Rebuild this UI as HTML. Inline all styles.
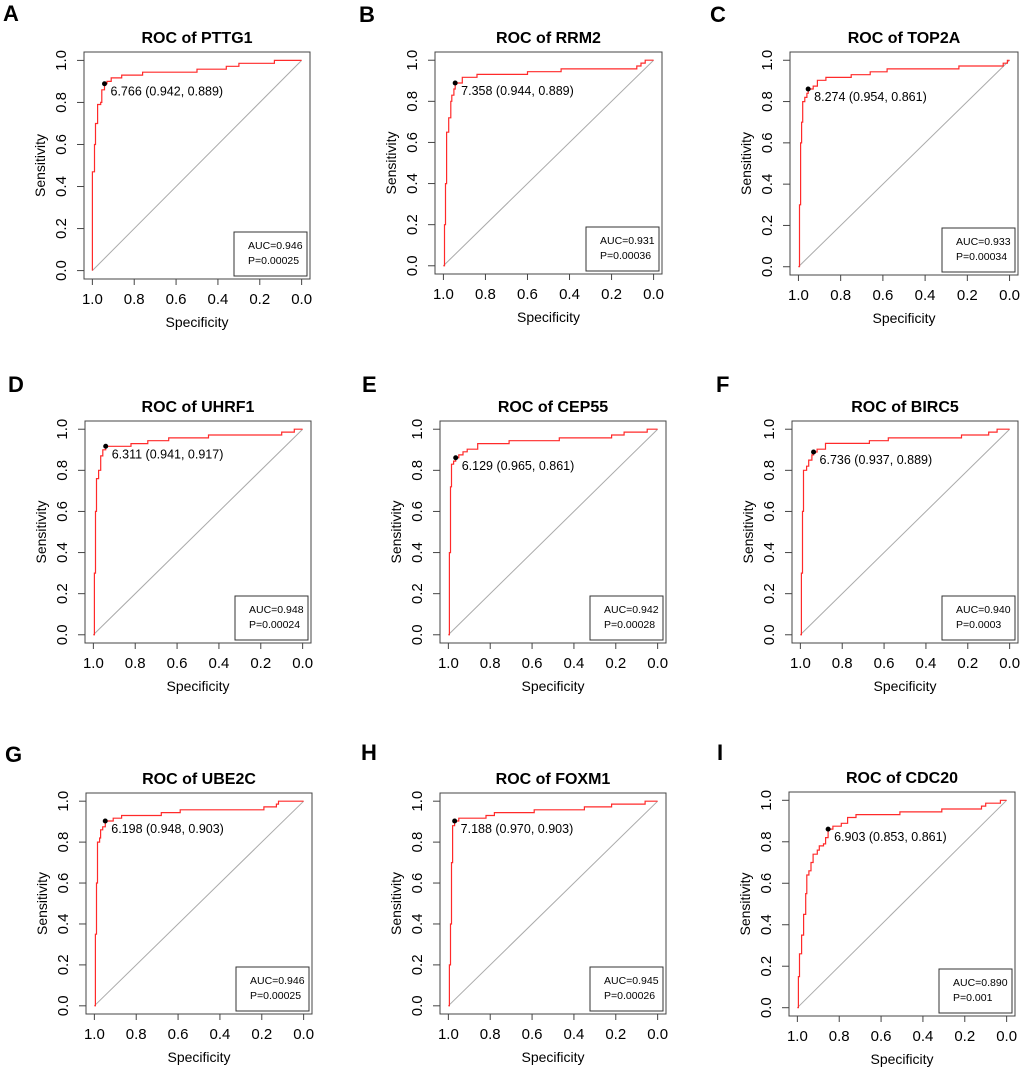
<!DOCTYPE html>
<html><head><meta charset="utf-8"><style>
html,body{margin:0;padding:0;background:#fff;}
svg{display:block;font-family:"Liberation Sans",Arial,sans-serif;}
</style></head><body>
<svg id="fig" width="1020" height="1075" viewBox="0 0 1020 1075" xmlns="http://www.w3.org/2000/svg"></svg>
<script>
const panelLetters = ["A","B","C","D","E","F","G","H","I"];
const geneNames = ["PTTG1","RRM2","TOP2A","UHRF1","CEP55","BIRC5","UBE2C","FOXM1","CDC20"];
const aucLabels = ["AUC=0.946","AUC=0.931","AUC=0.933","AUC=0.948","AUC=0.942","AUC=0.940","AUC=0.946","AUC=0.945","AUC=0.890"];
const pLabels = ["P=0.00025","P=0.00036","P=0.00034","P=0.00024","P=0.00028","P=0.0003","P=0.00025","P=0.00026","P=0.001"];
const cutThreshold = ["6.766","7.358","8.274","6.311","6.129","6.736","6.198","7.188","6.903"];
const cutSpec = [0.942,0.944,0.954,0.941,0.965,0.937,0.948,0.970,0.853];
const cutSens = [0.889,0.889,0.861,0.917,0.861,0.889,0.903,0.903,0.861];
const tickLabels = ["1.0","0.8","0.6","0.4","0.2","0.0"];
const tickValues = [1.0,0.8,0.6,0.4,0.2,0.0];
const ytickLabels = ["0.0","0.2","0.4","0.6","0.8","1.0"];
const ytickValues = [0,0.2,0.4,0.6,0.8,1.0];
const specA=[1,1,0.99,0.985,0.975,0.96,0.955,0.942,0.93,0.91,0.86,0.76,0.5,0.36,0.3,0.13,0];
const sensA=[0,0.47,0.6,0.7,0.79,0.8,0.86,0.889,0.9,0.917,0.93,0.944,0.958,0.972,0.986,1,1];
const specB=[1,0.995,0.99,0.985,0.975,0.965,0.96,0.95,0.944,0.91,0.84,0.6,0.44,0.08,0.06,0.04,0];
const sensB=[0,0.2,0.4,0.65,0.72,0.8,0.83,0.86,0.889,0.917,0.931,0.944,0.958,0.972,0.986,1,1];
const specC=[1,0.995,0.99,0.985,0.98,0.97,0.96,0.954,0.93,0.91,0.87,0.75,0.66,0.58,0.24,0.03,0.01,0];
const sensC=[0,0.3,0.6,0.7,0.8,0.82,0.84,0.861,0.875,0.903,0.917,0.93,0.944,0.958,0.972,0.986,1,1];
const specD=[1,0.995,0.99,0.985,0.975,0.965,0.955,0.941,0.82,0.74,0.64,0.45,0.1,0.04,0];
const sensD=[0,0.3,0.6,0.76,0.8,0.87,0.9,0.917,0.93,0.944,0.958,0.972,0.986,1,1];
const specE=[1,0.995,0.99,0.985,0.975,0.965,0.95,0.93,0.91,0.86,0.71,0.47,0.22,0.16,0.05,0];
const sensE=[0,0.4,0.72,0.83,0.845,0.861,0.875,0.89,0.903,0.93,0.944,0.958,0.972,0.986,1,1];
const specF=[1,0.995,0.99,0.985,0.97,0.96,0.945,0.937,0.92,0.88,0.67,0.58,0.23,0.1,0.06,0];
const sensF=[0,0.3,0.6,0.8,0.82,0.85,0.875,0.889,0.903,0.931,0.944,0.958,0.972,0.986,1,1];
const specG=[1,0.995,0.99,0.985,0.975,0.97,0.96,0.948,0.91,0.87,0.68,0.59,0.19,0.13,0.12,0];
const sensG=[0,0.35,0.6,0.8,0.82,0.86,0.875,0.903,0.917,0.93,0.944,0.958,0.972,0.986,1,1];
const specH=[1,0.995,0.99,0.985,0.98,0.97,0.95,0.82,0.78,0.59,0.35,0.22,0.06,0];
const sensH=[0,0.2,0.4,0.7,0.88,0.903,0.917,0.93,0.944,0.958,0.972,0.986,1,1];
const specI=[1,0.995,0.99,0.98,0.97,0.96,0.955,0.945,0.935,0.925,0.905,0.895,0.875,0.865,0.853,0.83,0.79,0.76,0.72,0.51,0.31,0.12,0.1,0.03,0];
const sensI=[0,0.15,0.26,0.35,0.45,0.55,0.64,0.66,0.7,0.74,0.76,0.78,0.79,0.82,0.861,0.875,0.889,0.917,0.931,0.944,0.958,0.972,0.986,1,1];
const allSpec=[specA,specB,specC,specD,specE,specF,specG,specH,specI];
const allSens=[sensA,sensB,sensC,sensD,sensE,sensF,sensG,sensH,sensI];

const boxes=[[84,52,226,227,3,21],[435,52,227,222,359,22],[790,52,228,223,710,22],
[85,421,226,222,8,392],[440,421,226,222,362,392],[792,421,226,222,716,392],
[86,793,226,221,5,762],[440,793,226,221,361,760],[789,792,226,224,717,760]];

const NS="http://www.w3.org/2000/svg";
const fig=document.getElementById('fig');
function mk(tag,attrs,parent,txt){const e=document.createElementNS(NS,tag);for(const k in attrs)e.setAttribute(k,attrs[k]);if(txt!==undefined)e.textContent=txt;parent.appendChild(e);return e;}

for(let i=0;i<9;i++){
  const [L,T,W,H,lx,ly]=boxes[i];
  const g=mk('g',{},fig);
  
  
  const padX=W*0.04/1.08, padY=H*0.04/1.08;
  const x0=L+padX, x1=L+W-padX;
  const yTop=T+padY, yBot=T+H-padY;
  const xs=v=>x0+(1-v)*(x1-x0);
  const ys=v=>yBot-v*(yBot-yTop);

  const let_=mk('text',{x:lx,y:ly,'font-size':22,'font-weight':'bold',fill:'#000'},g,panelLetters[i]);
  
  
  const tt=mk('text',{x:L+W/2,y:T-9,'font-size':16,'font-weight':'bold','text-anchor':'middle',fill:'#000'},g,'ROC of '+geneNames[i]);
  
  

  const dg=mk('line',{x1:xs(1),y1:ys(0),x2:xs(0),y2:ys(1),stroke:'#aaa','stroke-width':1},g);
  
  

  const sp=allSpec[i], se=allSens[i];
  let d='M'+xs(sp[0]).toFixed(1)+','+ys(se[0]).toFixed(1);
  for(let k=1;k<sp.length;k++){
    d+=' L'+xs(sp[k]).toFixed(1)+','+ys(se[k-1]).toFixed(1)+' L'+xs(sp[k]).toFixed(1)+','+ys(se[k]).toFixed(1);
  }
  const cv=mk('path',{d:d,fill:'none',stroke:'#ff2a2a','stroke-width':1.2},g);
  
  

  const cx=xs(cutSpec[i]), cy=ys(cutSens[i]);
  const dot=mk('circle',{cx:cx,cy:cy,r:2.5,fill:'#000'},g);
  
  
  const cl=mk('text',{x:cx+6,y:cy+12,'font-size':12.5,fill:'#000'},g,cutThreshold[i]+' ('+cutSpec[i].toFixed(3)+', '+cutSens[i].toFixed(3)+')');
  
  

  const fr=mk('rect',{x:L,y:T,width:W,height:H,fill:'none',stroke:'#444','stroke-width':1},g);
  
  

  mk('line',{x1:xs(1),y1:T+H,x2:xs(0),y2:T+H,stroke:'#444'},g);
  for(let k=0;k<tickValues.length;k++){
    const x=xs(tickValues[k]);
    mk('line',{x1:x,y1:T+H,x2:x,y2:T+H+6,stroke:'#444'},g);
    const tl=mk('text',{x:x,y:T+H+25,'font-size':15,'text-anchor':'middle',fill:'#000'},g,tickLabels[k]);
    
    
  }
  const xt=mk('text',{x:L+W/2,y:T+H+48,'font-size':14,'text-anchor':'middle',fill:'#000'},g,'Specificity');
  
  

  for(let k=0;k<ytickValues.length;k++){
    const y=ys(ytickValues[k]);
    mk('line',{x1:L-7,y1:y,x2:L,y2:y,stroke:'#444'},g);
    const yl=mk('text',{x:0,y:0,'font-size':15,'text-anchor':'middle',fill:'#000',transform:'translate('+(L-18)+','+y+') rotate(-90)'},g,ytickLabels[k]);
    
    
  }
  const yt=mk('text',{x:0,y:0,'font-size':14,'text-anchor':'middle',fill:'#000',transform:'translate('+(L-39)+','+(T+H/2)+') rotate(-90)'},g,'Sensitivity');
  
  

  const lg=mk('g',{},g);
  
  
  const lw=73, lh=44, lL=L+W-3-lw, lT=T+H-3-lh;
  mk('rect',{x:lL,y:lT,width:lw,height:lh,fill:'#fff',stroke:'#333','stroke-width':1},lg);
  mk('text',{x:lL+14,y:lT+17,'font-size':10.5,fill:'#000'},lg,aucLabels[i]);
  mk('text',{x:lL+14,y:lT+32,'font-size':10.5,fill:'#000'},lg,pLabels[i]);
}
</script>
</body></html>
